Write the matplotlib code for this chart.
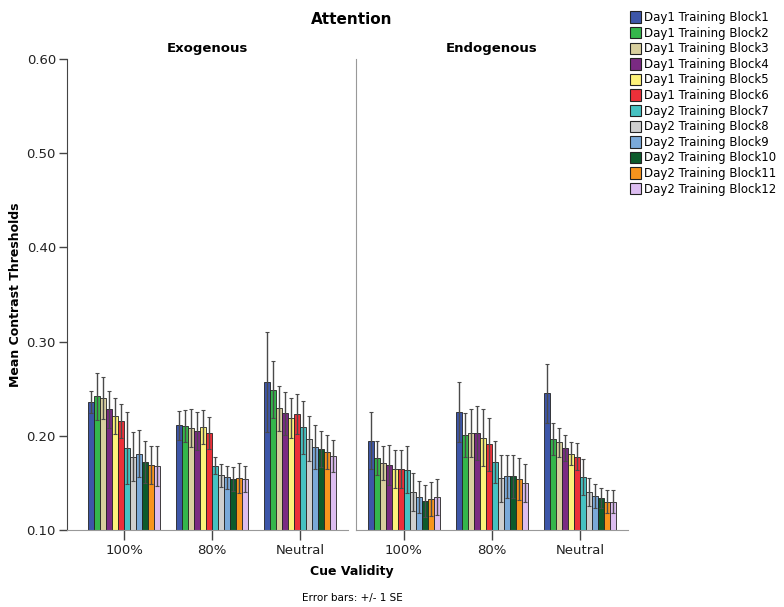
import numpy as np
import matplotlib
matplotlib.use('Agg')
import matplotlib.pyplot as plt
from matplotlib.patches import Patch

plt.rcParams['font.family'] = ['DejaVu Sans']

# 条件与组名
cue_labels = ['100%', '80%', 'Neutral']
block_labels = ['Day1 Training Block%d' % i for i in range(1, 7)] + \
               ['Day2 Training Block%d' % i for i in range(7, 13)]
block_colors = ['#3d56a8', '#34b64b', '#d8cf9e', '#7a2a82', '#fcf27a', '#ec3039',
                '#46c2c2', '#cfcfcf', '#7aa9d9', '#0c5a2b', '#f7941d', '#dcbdf0']

# Exogenous 均值（每行一个 cue validity，每列一个 block）
exo_mean_100 = [0.236, 0.242, 0.240, 0.228, 0.221, 0.216, 0.187, 0.178, 0.181, 0.172, 0.169, 0.168]
exo_mean_80 = [0.211, 0.210, 0.208, 0.205, 0.209, 0.203, 0.168, 0.158, 0.156, 0.154, 0.155, 0.154]
exo_mean_neu = [0.257, 0.249, 0.229, 0.224, 0.219, 0.223, 0.209, 0.197, 0.188, 0.186, 0.183, 0.179]
exo_se_100 = [0.012, 0.025, 0.022, 0.020, 0.019, 0.018, 0.038, 0.026, 0.025, 0.022, 0.020, 0.021]
exo_se_80 = [0.015, 0.017, 0.020, 0.020, 0.018, 0.017, 0.009, 0.012, 0.012, 0.013, 0.016, 0.014]
exo_se_neu = [0.053, 0.030, 0.024, 0.023, 0.021, 0.021, 0.028, 0.024, 0.023, 0.019, 0.018, 0.017]

# Endogenous 均值
endo_mean_100 = [0.195, 0.176, 0.171, 0.169, 0.165, 0.165, 0.164, 0.140, 0.135, 0.131, 0.133, 0.135]
endo_mean_80 = [0.225, 0.201, 0.203, 0.203, 0.198, 0.191, 0.172, 0.155, 0.157, 0.157, 0.154, 0.150]
endo_mean_neu = [0.245, 0.197, 0.193, 0.187, 0.181, 0.178, 0.156, 0.140, 0.136, 0.134, 0.130, 0.130]
endo_se_100 = [0.030, 0.018, 0.018, 0.021, 0.020, 0.020, 0.025, 0.020, 0.017, 0.017, 0.018, 0.019]
endo_se_80 = [0.032, 0.023, 0.025, 0.029, 0.030, 0.028, 0.022, 0.025, 0.023, 0.023, 0.022, 0.020]
endo_se_neu = [0.031, 0.017, 0.015, 0.014, 0.012, 0.014, 0.019, 0.015, 0.013, 0.011, 0.012, 0.012]

W, H = 784, 607
fig = plt.figure(figsize=(W / 100, H / 100), dpi=100)

def px_axes(x0, x1, y_top, y_bot):
    return fig.add_axes([x0 / W, 1 - y_bot / H, (x1 - x0) / W, (y_bot - y_top) / H])

ax1 = px_axes(67, 348, 59, 530)
ax2 = px_axes(356, 628, 59, 530)

bar_w = 0.068
x = np.arange(len(cue_labels))
offsets = (np.arange(12) - 5.5) * bar_w

def draw_panel(ax, means, ses, title):
    for j in range(12):
        m = [means[i][j] for i in range(3)]
        s = [ses[i][j] for i in range(3)]
        ax.bar(x + offsets[j], np.array(m) - 0.10, bar_w, bottom=0.10,
               color=block_colors[j], edgecolor='#222222', linewidth=0.6, zorder=2)
        ax.errorbar(x + offsets[j], m, yerr=s, fmt='none', ecolor='#4a4a4a',
                    elinewidth=1.0, capsize=1.2, capthick=0.8, zorder=3)
    ax.set_ylim(0.10, 0.60)
    ax.set_xticks(x)
    ax.set_xticklabels(cue_labels, fontsize=9.5, color='#222222')
    ax.tick_params(axis='x', direction='out', length=7, width=1, color='#444444', pad=3)
    ax.spines['top'].set_visible(False)
    ax.spines['right'].set_visible(False)
    ax.spines['bottom'].set_color('#999999')
    ax.set_title(title, fontsize=9.5, fontweight='bold', pad=5)

draw_panel(ax1, [exo_mean_100, exo_mean_80, exo_mean_neu],
           [exo_se_100, exo_se_80, exo_se_neu], 'Exogenous')
draw_panel(ax2, [endo_mean_100, endo_mean_80, endo_mean_neu],
           [endo_se_100, endo_se_80, endo_se_neu], 'Endogenous')

ax1.set_xlim(-0.648, 2.545)
ax2.set_xlim(-0.545, 2.545)

ax1.set_yticks([0.10, 0.20, 0.30, 0.40, 0.50, 0.60])
ax1.set_yticklabels(['0.10', '0.20', '0.30', '0.40', '0.50', '0.60'], fontsize=9.5, color='#222222')
ax1.tick_params(axis='y', direction='out', length=6, width=1, color='#444444', pad=2)
ax1.spines['left'].set_color('#444444')
ax1.set_ylabel('Mean Contrast Thresholds', fontsize=9, fontweight='bold')
ax1.yaxis.set_label_coords(-45 / 281, 0.5)

ax2.set_yticks([])
ax2.spines['left'].set_color('#999999')

fig.text(352 / W, 1 - 19 / H, 'Attention', ha='center', va='center', fontsize=11, fontweight='bold')
fig.text(352 / W, 1 - 571 / H, 'Cue Validity', ha='center', va='center', fontsize=9, fontweight='bold')
fig.text(352 / W, 1 - 598 / H, 'Error bars: +/- 1 SE', ha='center', va='center', fontsize=7.5)

handles = [Patch(facecolor=c, edgecolor='#222222', linewidth=0.8) for c in block_colors]
fig.legend(handles, block_labels, loc='upper left', bbox_to_anchor=(623 / W, 1 - 4 / H),
           frameon=False, fontsize=8.5, handlelength=0.9, handleheight=1.1,
           handletextpad=0.3, labelspacing=0.22, borderpad=0.1)

fig.savefig('out.png', dpi=100)
